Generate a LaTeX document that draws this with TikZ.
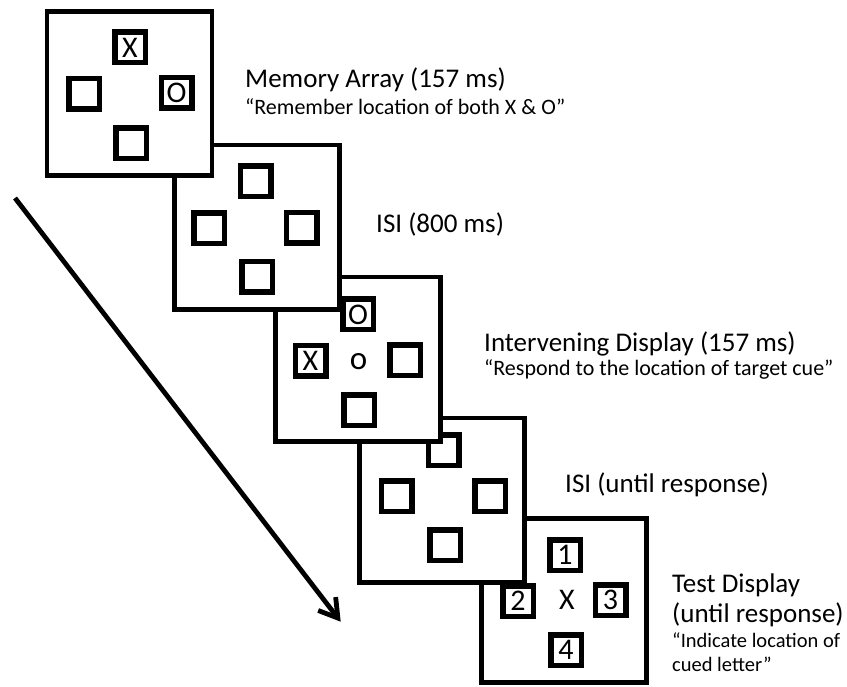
\documentclass[tikz,border=0pt]{standalone}
\usepackage{fontspec}
\setmainfont{Carlito}
\usetikzlibrary{arrows.meta}
\begin{document}
\begin{tikzpicture}[x=1pt,y=-1pt,
 panel/.style={draw,fill=white,line width=4.8pt,minimum width=165pt,minimum height=164.5pt,inner sep=0pt,outer sep=0pt},
 cell/.style={draw,fill=white,line width=5.5pt,minimum size=30.5pt,inner sep=0pt,font=\fontsize{30}{33}\selectfont},
 glyph/.style={inner sep=0pt,font=\fontsize{30}{33}\selectfont},
 title/.style={anchor=base west,inner sep=0pt,font=\fontsize{27}{32}\selectfont},
 quotetext/.style={anchor=base west,inner sep=0pt,font=\fontsize{22}{26}\selectfont},
 smallquote/.style={anchor=base west,inner sep=0pt,font=\fontsize{20.5}{24}\selectfont},
 timearrow/.style={line width=4.8pt,-{Straight Barb[length=18pt,width=22pt]}}]
\useasboundingbox (0,0) rectangle (847,687);
% panel 5
\node[panel] (p5) at (564,600.5) {};
\node[cell] (p5t) at (565,555) {1};
\node[cell] (p5l) at (518,601) {2};
\node[cell] (p5r) at (610.5,600) {3};
\node[cell] (p5b) at (566,650) {4};
\node[glyph] (p5c) at (567,600) {X};
% panel 4
\node[panel] (p4) at (441.75,500.25) {};
\node[cell] (p4t) at (443.5,450) {};
\node[cell] (p4l) at (396.5,496) {};
\node[cell] (p4r) at (490,496) {};
\node[cell] (p4b) at (445,545) {};
% panel 3
\node[panel] (p3) at (358,359.25) {};
\node[cell] (p3t) at (358,314.5) {O};
\node[cell] (p3l) at (310.5,361) {X};
\node[cell] (p3r) at (405,360.5) {};
\node[cell] (p3b) at (359,410) {};
\node[inner sep=0pt,font=\fontsize{33}{36}\selectfont] (p3c) at (358.5,362) {o};
% panel 2
\node[panel] (p2) at (257,227.25) {};
\node[cell] (p2t) at (255.5,181.5) {};
\node[cell] (p2l) at (209,228.5) {};
\node[cell] (p2r) at (301.5,228) {};
\node[cell] (p2b) at (257,277) {};
% panel 1
\node[panel] (p1) at (129.5,93.5) {};
\node[cell] (p1t) at (130,47.5) {X};
\node[cell] (p1l) at (84,94) {};
\node[cell] (p1r) at (176.5,93) {O};
\node[cell] (p1b) at (131,143.5) {};
% labels
\node[title] (l1) at (245,88) {Memory Array (157 ms)};
\node[quotetext] (q1) at (245,115) {“Remember location of both X \& O”};
\node[title] (l2) at (376,233) {ISI (800 ms)};
\node[title] (l3) at (484,352) {Intervening Display (157 ms)};
\node[quotetext] (q3) at (484,376) {“Respond to the location of target cue”};
\node[title] (l4) at (565,492) {ISI (until response)};
\node[title] (l5a) at (672,592) {Test Display};
\node[title] (l5b) at (672,622) {(until response)};
\node[smallquote] (q5a) at (672,647) {“Indicate location of};
\node[smallquote] (q5b) at (672,671) {cued letter”};
% time arrow
\coordinate (a1) at (15,198);
\coordinate (a2) at (340.7,621.7);
\draw[timearrow] (a1) -- (a2);
\end{tikzpicture}
\end{document}
